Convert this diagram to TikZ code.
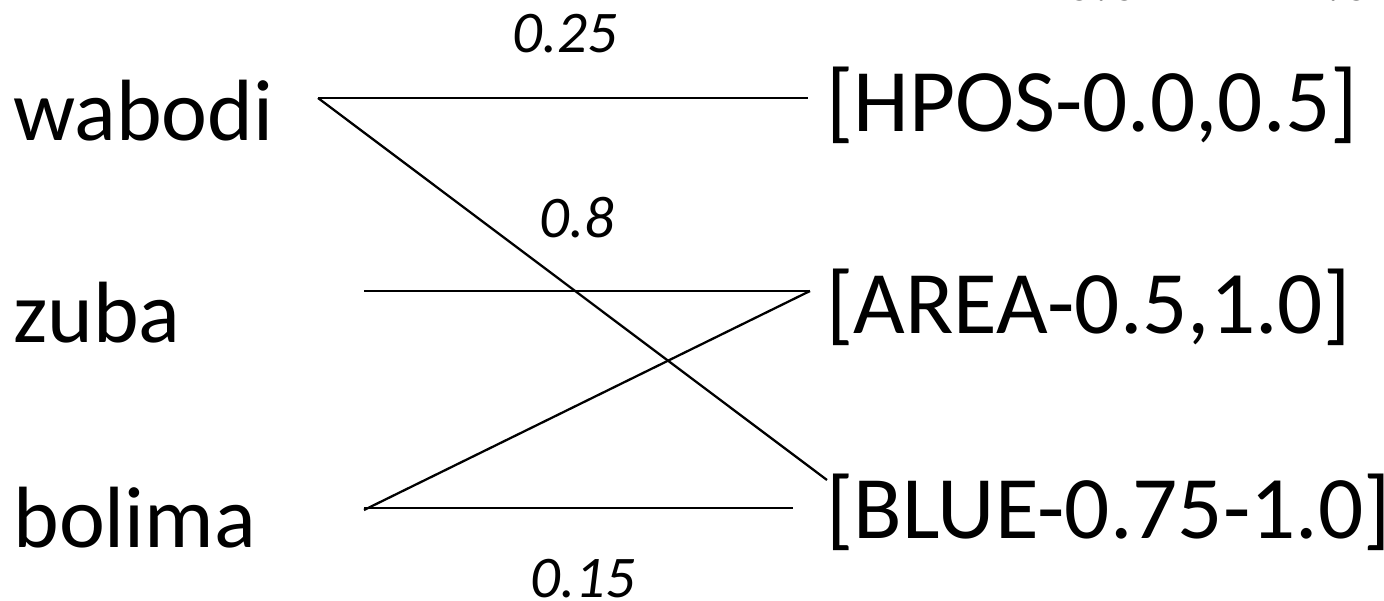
\documentclass[tikz,border=0pt]{standalone}
\usepackage{fontspec}
\setmainfont{Carlito}
\begin{document}
\begin{tikzpicture}[x=0.02cm,y=-0.02cm,
  word/.style={anchor=base west,inner sep=0pt,font=\fontsize{49.5}{50}\selectfont},
  concept/.style={word,font=\fontsize{50.8}{51}\selectfont},
  weight/.style={anchor=base,inner sep=0pt,font=\fontsize{33.6}{34}\selectfont\itshape},
  link/.style={line width=1.3pt}]
  \useasboundingbox (0,0) rectangle (1384,601);
  % Words
  \node[word] (wabodi) at (13,141) {wabodi};
  \node[word] (zuba) at (13,343) {zuba};
  \node[word] (bolima) at (13,547) {bolima};
  % Concepts
  \node[concept] (hpos) at (826,132) {[HPOS-0.0,0.5]};
  \node[concept] (area) at (826,334) {[AREA-0.5,1.0]};
  \node[concept] (blue) at (826,539) {[BLUE-0.75-1.0]};
  % Line ends
  \coordinate (wl) at (318,98);
  \coordinate (zl) at (364,291);
  \coordinate (bl) at (364,510);
  \coordinate (hr) at (808,98);
  \coordinate (ar) at (810,291);
  \coordinate (br) at (827,480);
  \coordinate (bb) at (793,508);
  % Links
  \draw[link] (wl) -- (hr);
  \draw[link] (wl) -- (br);
  \draw[link] (zl) -- (ar);
  \draw[link] (bl) -- (ar);
  \draw[link] (bl |- bb) -- (bb);
  % Weights
  \node[weight] (w1) at (565,53) {0.25};
  \node[weight] (w2) at (577,238) {0.8};
  \node[weight] (w3) at (583,597) {0.15};
  \node[weight,anchor=base west] (range) at (1065,1)
    {0.0\hspace{1.28cm}--\hspace{1.28cm}1.0};
\end{tikzpicture}
\end{document}
